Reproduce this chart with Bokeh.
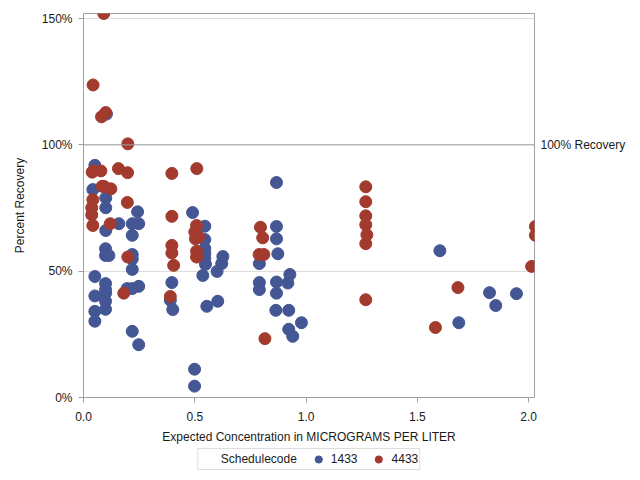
from bokeh.plotting import figure
from bokeh.layouts import column
from bokeh.models import (ColumnDataSource, Range1d, FixedTicker, PrintfTickFormatter,
                          Span, Legend, LegendItem, LinearAxis)
from bokeh.embed import file_html
from bokeh.resources import INLINE

# ---- data: Schedulecode 1433 (blue) ----
x_1433 = [0.103, 0.051, 0.867, 0.042, 0.100, 0.100, 0.243, 0.490, 0.100, 0.159,
          0.219, 0.248, 0.219, 0.545, 0.545, 0.545, 0.545, 0.545, 0.548, 0.626,
          0.397, 0.390, 0.401, 0.536, 0.600, 0.621, 0.554, 0.603, 0.499, 0.499,
          0.790, 0.790, 0.790, 0.099, 0.099, 0.114, 0.219, 0.219, 0.219, 0.051,
          0.099, 0.099, 0.099, 0.196, 0.219, 0.248, 0.051, 0.099, 0.099, 0.051,
          0.051, 0.219, 0.248, 0.867, 0.867, 0.873, 0.927, 0.867, 0.918, 0.867,
          0.864, 0.922, 0.979, 0.922, 0.940, 1.601, 1.686, 1.824, 1.852, 1.945]
y_1433 = [112.2, 91.9, 85.1, 82.3, 79.0, 75.1, 73.5, 73.2, 66.1, 68.8,
          68.8, 68.8, 64.2, 67.8, 62.5, 59.0, 57.0, 55.0, 52.7, 55.8,
          45.5, 38.5, 34.8, 48.3, 49.9, 53.0, 36.1, 38.1, 11.2, 4.5,
          53.0, 45.5, 42.7, 58.9, 56.2, 56.2, 56.6, 54.8, 50.7, 47.9,
          45.1, 42.7, 41.3, 43.1, 43.1, 44.0, 40.2, 38.1, 34.9, 34.1,
          30.2, 26.2, 20.9, 67.7, 62.8, 56.9, 48.7, 45.7, 45.3, 41.3,
          34.5, 34.5, 29.6, 27.0, 24.2, 58.1, 29.6, 41.5, 36.4, 41.1]

# ---- data: Schedulecode 4433 (red) ----
x_4433 = [0.043, 0.091, 0.081, 0.100, 0.199, 0.039, 0.045, 0.078, 0.157, 0.198,
          0.397, 0.509, 0.084, 0.093, 0.123, 0.042, 0.197, 0.037, 0.037, 0.397,
          0.042, 0.120, 0.508, 0.500, 0.511, 0.503, 0.518, 0.397, 0.397, 0.508,
          0.508, 0.795, 0.805, 0.789, 0.810, 0.405, 0.390, 0.815, 0.199, 0.181,
          1.268, 1.268, 1.268, 1.268, 1.273, 1.268, 1.268, 1.682, 1.581, 2.030,
          2.030, 2.013]
y_4433 = [123.7, 152.0, 111.1, 112.8, 100.4, 89.2, 89.7, 89.7, 90.6, 89.0,
          88.7, 90.6, 83.6, 83.5, 82.6, 78.3, 77.2, 75.1, 72.3, 71.7,
          68.1, 68.8, 68.1, 65.5, 64.2, 62.8, 63.5, 60.2, 57.2, 57.9,
          55.6, 67.4, 63.2, 56.6, 56.6, 52.3, 40.0, 23.3, 55.6, 41.3,
          83.4, 77.5, 71.9, 68.4, 64.4, 60.9, 38.7, 43.5, 27.7, 67.7,
          64.2, 51.9]

series_labels = ["1433", "4433"]
legend_title = "Schedulecode"
x_ticks = [0.0, 0.5, 1.0, 1.5, 2.0]
y_ticks = [0, 50, 100, 150]
ref_value = 100
ref_label = "100% Recovery"
x_label = "Expected Concentration in MICROGRAMS PER LITER"
y_label = "Percent Recovery"

BLUE = "#445694"
RED = "#A23A2E"
FONT = "Liberation Sans"
GRAY = "#A0A0A0"
TXT = "#1a1a1a"
W = 630

p = figure(width=W, height=447, output_backend="svg", toolbar_location=None,
           x_range=Range1d(0, 2.026), y_range=Range1d(0, 152),
           min_border_left=83, min_border_right=96, min_border_top=13,
           min_border_bottom=50)

p.background_fill_color = "white"
p.border_fill_color = "white"
p.outline_line_color = GRAY
p.outline_line_width = 1

p.xgrid.visible = False
p.ygrid.grid_line_color = "#DCDCDC"
p.ygrid.grid_line_width = 1

p.xaxis.ticker = FixedTicker(ticks=x_ticks, minor_ticks=[])
p.yaxis.ticker = FixedTicker(ticks=y_ticks, minor_ticks=[])
p.xaxis.formatter = PrintfTickFormatter(format="%.1f")
p.yaxis.formatter = PrintfTickFormatter(format="%d%%")

# right-side label for the reference line
ref_axis = LinearAxis(ticker=FixedTicker(ticks=[ref_value], minor_ticks=[]),
                      major_label_overrides={ref_value: ref_label})
p.add_layout(ref_axis, "right")

for ax in p.axis:
    ax.axis_line_color = GRAY
    ax.major_tick_line_color = GRAY
    ax.major_tick_out = 5
    ax.major_tick_in = 0
    ax.minor_tick_out = 0
    ax.minor_tick_in = 0
    ax.major_label_text_font = FONT
    ax.major_label_text_font_size = "12px"
    ax.major_label_text_color = TXT
    ax.axis_label_text_font = FONT
    ax.axis_label_text_font_size = "12px"
    ax.axis_label_text_font_style = "normal"
    ax.axis_label_text_color = TXT

ref_axis.axis_line_color = None
ref_axis.major_tick_line_color = None
ref_axis.major_tick_out = 0
ref_axis.major_label_standoff = 6

p.xaxis[0].axis_label = x_label
p.yaxis[0].axis_label = y_label
p.xaxis.major_label_standoff = 9
p.xaxis.axis_label_standoff = 6
p.yaxis[0].major_label_standoff = 6
p.yaxis[0].axis_label_standoff = 12

ref = Span(location=ref_value, dimension="width", line_color=GRAY, line_width=1)
p.add_layout(ref)

src_b = ColumnDataSource(data=dict(x=x_1433, y=y_1433))
src_r = ColumnDataSource(data=dict(x=x_4433, y=y_4433))
p.scatter(x="x", y="y", source=src_b, size=12, fill_color=BLUE, line_color=BLUE)
p.scatter(x="x", y="y", source=src_r, size=12, fill_color=RED, line_color=RED)

# ---- legend strip below the plot (its own view shows no data: range lies below all values) ----
lg = figure(width=W, height=24, output_backend="svg", toolbar_location=None,
            x_range=Range1d(0, 1), y_range=Range1d(-2, -1),
            x_axis_location=None, y_axis_location=None,
            min_border_left=0, min_border_right=13, min_border_top=0, min_border_bottom=0)
lg.outline_line_color = None
lg.xgrid.visible = False
lg.ygrid.visible = False
lg.background_fill_color = "white"
lg.border_fill_color = "white"

l_title = lg.scatter(x=[], y=[], size=0, fill_alpha=0, line_alpha=0)
l_blue = lg.scatter(x="x", y="y", source=ColumnDataSource(data=dict(x=x_1433, y=y_1433)),
                    size=12, fill_color=BLUE, line_color=BLUE)
l_red = lg.scatter(x="x", y="y", source=ColumnDataSource(data=dict(x=x_4433, y=y_4433)),
                   size=12, fill_color=RED, line_color=RED)

legend = Legend(items=[LegendItem(label=legend_title, renderers=[l_title]),
                       LegendItem(label=series_labels[0], renderers=[l_blue]),
                       LegendItem(label=series_labels[1], renderers=[l_red])],
                orientation="horizontal", location="center",
                glyph_width=18, glyph_height=18, label_height=14,
                label_standoff=4, spacing=12, padding=1, margin=0,
                label_text_font=FONT, label_text_font_size="12px",
                label_text_color=TXT, border_line_color="#BBBBBB",
                background_fill_color="white")
lg.add_layout(legend)

layout = column(p, lg, spacing=0)
open("out.html", "w").write(file_html(layout, INLINE))
